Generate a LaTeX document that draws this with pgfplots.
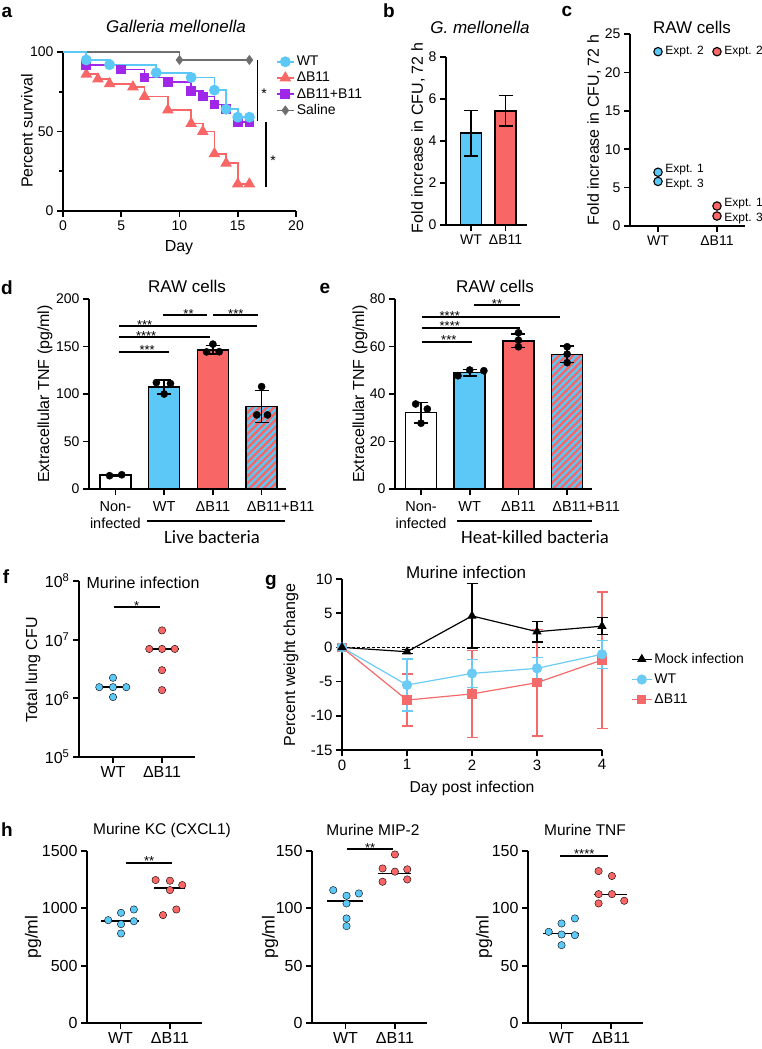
\documentclass[border=0pt]{standalone}
\usepackage{fontspec}
\setmainfont{Liberation Sans}
\newfontfamily\calib{Carlito}
\usepackage{pgfplots}
\pgfplotsset{compat=1.18}
\usetikzlibrary{patterns.meta}
\newcommand{\fs}[1]{\fontsize{#1pt}{1.2\dimexpr#1pt\relax}\selectfont}
\definecolor{wtblue}{HTML}{5CC8F7}
\definecolor{dred}{HTML}{F86666}
\definecolor{cpurple}{HTML}{A127E8}
\definecolor{cgray}{HTML}{6E6E6E}
\definecolor{gblue}{HTML}{6CCBF5}
\definecolor{gred}{HTML}{F46A6A}
\tikzset{sstar/.style={font=\fs{13}, anchor=base, inner sep=0pt, yshift=-3.2pt},
  elab/.style={anchor=west, font=\fs{12}, inner sep=0pt, xshift=7.2pt}}
\pgfplotsset{
  prism/.style={scale only axis, anchor=south west, clip=false,
    axis x line*=bottom, axis y line*=left,
    axis line style={line width=1.7pt,-},
    tick style={line width=1.7pt,black},
    major tick length=6pt, minor tick length=4pt, tick align=outside,
    ticklabel style={font=\fs{14}},
    /pgf/number format/assume math mode=true,
    /pgf/number format/1000 sep={},
    enlargelimits=false},
  barA/.style={ybar, bar width=31pt, bar shift=0pt, draw=black, line width=1.6pt,
    /pgfplots/error bars/y dir=both, /pgfplots/error bars/y explicit,
    /pgfplots/error bars/error bar style={line width=1.6pt,black},
    /pgfplots/error bars/error mark options={rotate=90,mark size=7pt,line width=1.6pt,black}},
  dots/.style={only marks, mark=*, mark size=3.6pt, black},
  sdot/.style={only marks, mark=*, mark size=3.7pt, draw=none},
}
\begin{document}
\begin{tikzpicture}
\useasboundingbox (0pt,0pt) rectangle (762pt,-1049pt);

% ---------------- panel a
\node[font=\bfseries\fs{19}] at (7pt,-12pt) {a};
\node[font=\itshape\fs{17}] at (176pt,-26pt) {Galleria mellonella};
\node[rotate=90,font=\fs{16}] at (27pt,-131pt) {Percent survival};
\node[font=\fs{16}] at (179pt,-248pt) {Day};
\begin{axis}[prism, at={(63pt,-211pt)}, width=233pt, height=159pt,
  xmin=0, xmax=20, ymin=0, ymax=100, xtick={0,5,10,15,20}, ytick={0,50,100}, minor ytick={25,75},
  legend style={draw=none, fill=none, at={(axis description cs:0.9,1.0)}, anchor=north west, font=\fs{14}, row sep=1pt,
    nodes={inner sep=2pt}},
  legend cell align=left]
\addlegendimage{wtblue, line width=1.8pt, mark=*, mark size=4.5pt}\addlegendentry{WT}
\addlegendimage{dred, line width=1.8pt, mark=triangle*, mark size=5pt}\addlegendentry{ΔB11}
\addlegendimage{cpurple, line width=1.8pt, mark=square*, mark size=4pt}\addlegendentry{ΔB11+B11}
\addlegendimage{cgray, line width=1.8pt, mark=diamond*, mark size=3.6pt}\addlegendentry{Saline}
\addplot[forget plot, const plot, cgray, line width=1.8pt, mark=diamond*, mark size=3.6pt, mark indices={2,3}]
  coordinates {(0,100)(10,95)(16,95)};
\addplot[forget plot, const plot, dred, line width=1.8pt, mark=triangle*, mark size=5pt, mark indices={2,3,4,5,6,7,8,9,10,11,12,13}]
  coordinates {(0,100)(2,86)(3,83)(4,80)(6,78)(7,72)(9,63.5)(11,55)(12,50)(13,36)(14,30)(15,17)(16,17)};
\addplot[forget plot, const plot, cpurple, line width=1.8pt, mark=square*, mark size=4pt, mark indices={2,3,4,5,6,7,8,9,10,11}]
  coordinates {(0,100)(2,92)(5,89)(7,84)(9,81)(11,75.5)(12,72)(13,67)(14,64)(15,56)(16,56)};
\addplot[forget plot, const plot, wtblue, line width=1.8pt, mark=*, mark size=4.5pt, mark indices={2,3,4,5,6,7,8,9}]
  coordinates {(0,100)(2,95)(4,92)(8,87)(11,84)(13,76)(14,64)(15,59)(16,59)};
\draw[line width=1.7pt] (axis cs:16.7,95) -- (axis cs:16.7,56.6);
\draw[line width=1.7pt] (axis cs:17.4,56) -- (axis cs:17.4,15);
\end{axis}
\node[font=\fs{14}, anchor=base, inner sep=0pt] at (264pt,-98pt) {*};
\node[font=\fs{14}, anchor=base, inner sep=0pt] at (273pt,-165pt) {*};

% ---------------- panel b
\node[font=\bfseries\fs{19}] at (389pt,-11pt) {b};
\node[font=\itshape\fs{17}] at (480pt,-27pt) {G. mellonella};
\node[rotate=90,font=\fs{16}] at (418pt,-138pt) {Fold increase in CFU, 72 h};
\begin{axis}[prism, at={(446pt,-225pt)}, width=81pt, height=168pt,
  xmin=-0.725, xmax=1.623, ymin=0, ymax=8, ytick={0,2,4,6,8}, xtick={0,1}, xticklabels={WT,ΔB11}]
\addplot[barA, bar width=21pt, fill=wtblue] coordinates {(0,4.37) +- (0,1.09)};
\addplot[barA, bar width=21pt, fill=dred] coordinates {(1,5.44) +- (0,0.72)};
\end{axis}

% ---------------- panel c
\node[font=\bfseries\fs{19}] at (567pt,-11pt) {c};
\node[font=\fs{17}] at (692pt,-27pt) {RAW cells};
\node[rotate=90,font=\fs{16}] at (594pt,-130pt) {Fold increase in CFU, 72 h};
\begin{axis}[prism, at={(630pt,-226pt)}, width=115pt, height=192pt,
  xmin=-0.475, xmax=1.475, ymin=0, ymax=25, ytick={0,5,...,25}, xtick={0,1}, xticklabels={WT,ΔB11}]
\addplot[only marks, mark=*, mark size=4.2pt, mark options={fill=wtblue, draw=black, line width=1.1pt}]
  coordinates {(0,22.7)(0,7.0)(0,5.8)};
\addplot[only marks, mark=*, mark size=4.2pt, mark options={fill=dred, draw=black, line width=1.1pt}]
  coordinates {(1,22.7)(1,2.6)(1,1.3)};
\node[elab] at (axis cs:0,22.7) {Expt. 2};
\node[elab, yshift=2.6pt] at (axis cs:0,7.0) {Expt. 1};
\node[elab, yshift=-2.6pt] at (axis cs:0,5.8) {Expt. 3};
\node[elab] at (axis cs:1,22.7) {Expt. 2};
\node[elab, yshift=2.2pt] at (axis cs:1,2.6) {Expt. 1};
\node[elab, yshift=-2.2pt] at (axis cs:1,1.3) {Expt. 3};
\end{axis}

% ---------------- panel d
\node[font=\bfseries\fs{19}] at (7pt,-288pt) {d};
\node[font=\fs{17}] at (187pt,-286pt) {RAW cells};
\node[rotate=90,font=\fs{16}] at (45pt,-394pt) {Extracellular TNF (pg/ml)};
\draw[line width=1.6pt] (147pt,-521pt) -- (285pt,-521pt);
\node[font=\calib\fs{18.7}] at (212pt,-537pt) {Live bacteria};
\begin{axis}[prism, at={(89pt,-489pt)}, width=197pt, height=190pt,
  xmin=-0.542, xmax=3.5, ymin=0, ymax=200, ytick={0,50,...,200}, xtick={0,1,2,3},
  xticklabels={{Non-\\infected},WT,ΔB11,{\makebox[0pt]{\hspace*{38pt}ΔB11+B11}}},
  xticklabel style={align=center, font=\fs{14.5}, yshift=-3pt}]
\addplot[barA, fill=white] coordinates {(0,14.5) +- (0,0.6)};
\addplot[barA, fill=wtblue] coordinates {(1,107.1) +- (0,7.4)};
\addplot[barA, fill=dred] coordinates {(2,146.6) +- (0,4.4)};
\addplot[barA, fill=wtblue, postaction={pattern={Lines[angle=45,distance=5pt,line width=2.4pt]}, pattern color=dred}]
  coordinates {(3,86.8) +- (0,17)};
\addplot[dots] coordinates {(-0.12,14)(0.13,15)(0.84,112)(1.13,111)(1,100)(2,152.5)(1.87,144.3)(2.13,144.5)(3,107.8)(2.9,78)(3.12,78)};
\draw[line width=1.6pt] (axis cs:0.08,144.5) -- (axis cs:1.09,144.5);
\node[sstar] at (axis cs:0.65,144.5) {***};
\draw[line width=1.6pt] (axis cs:0.08,159.7) -- (axis cs:1.94,159.7);
\node[sstar] at (axis cs:0.63,159.7) {****};
\draw[line width=1.6pt] (axis cs:0.08,171.5) -- (axis cs:2.9,171.5);
\node[sstar] at (axis cs:0.6,171.5) {***};
\draw[line width=1.6pt] (axis cs:0.97,183) -- (axis cs:1.88,183);
\node[sstar] at (axis cs:1.5,183) {**};
\draw[line width=1.6pt] (axis cs:2.0,183) -- (axis cs:2.92,183);
\node[sstar] at (axis cs:2.47,183) {***};
\end{axis}

% ---------------- panel e
\node[font=\bfseries\fs{19}] at (325pt,-288pt) {e};
\node[font=\fs{17}] at (495pt,-286pt) {RAW cells};
\node[rotate=90,font=\fs{16}] at (360pt,-394pt) {Extracellular TNF (pg/ml)};
\draw[line width=1.6pt] (457pt,-521pt) -- (592pt,-521pt);
\node[font=\calib\fs{18.7}] at (535pt,-537pt) {Heat-killed bacteria};
\begin{axis}[prism, at={(395pt,-489pt)}, width=197pt, height=190pt,
  xmin=-0.534, xmax=3.51, ymin=0, ymax=80, ytick={0,20,...,80}, xtick={0,1,2,3},
  xticklabels={{Non-\\infected},WT,ΔB11,{\makebox[0pt]{\hspace*{38pt}ΔB11+B11}}},
  xticklabel style={align=center, font=\fs{14.5}, yshift=-3pt}]
\addplot[barA, fill=white] coordinates {(0,32.2) +- (0,4.3)};
\addplot[barA, fill=wtblue] coordinates {(1,49.0) +- (0,1.35)};
\addplot[barA, fill=dred] coordinates {(2,62.4) +- (0,2.9)};
\addplot[barA, fill=wtblue, postaction={pattern={Lines[angle=45,distance=5pt,line width=2.4pt]}, pattern color=dred}]
  coordinates {(3,56.7) +- (0,3.5)};
\addplot[dots] coordinates {(-0.11,35.8)(0.13,33.7)(0,27.7)(0.76,47.7)(1,50.1)(1.29,49.8)(2,65.8)(2,62.7)(2,59.9)(3,59.9)(3,56.8)(3,53.2)};
\draw[line width=1.6pt] (axis cs:0.03,62) -- (axis cs:1.04,62);
\node[sstar] at (axis cs:0.57,62) {***};
\draw[line width=1.6pt] (axis cs:0.03,67.9) -- (axis cs:2.03,67.9);
\node[sstar] at (axis cs:0.59,67.9) {****};
\draw[line width=1.6pt] (axis cs:0.03,72.5) -- (axis cs:2.85,72.5);
\node[sstar] at (axis cs:0.59,72.5) {****};
\draw[line width=1.6pt] (axis cs:1.09,77.4) -- (axis cs:2.03,77.4);
\node[sstar] at (axis cs:1.56,77.4) {**};
\end{axis}

% ---------------- panel f
\node[font=\bfseries\fs{19}] at (6pt,-577pt) {f};
\node[font=\fs{16}, anchor=west] at (83pt,-583pt) {Murine infection};
\node[rotate=90,font=\fs{16}] at (33pt,-670pt) {Total lung CFU};
\begin{axis}[prism, ymode=log, at={(79pt,-757pt)}, width=116pt, height=176pt,
  xmin=-0.694, xmax=1.673, ymin=1e5, ymax=1e8, ytick={1e5,1e6,1e7,1e8}, yminorticks=false,
  yticklabels={10\textsuperscript{5},10\textsuperscript{6},10\textsuperscript{7},10\textsuperscript{8}},
  xtick={0,1}, xticklabels={WT,ΔB11}, ticklabel style={font=\fs{16}}]
\addplot[sdot, fill=wtblue] coordinates {(-0.28,1.55e6)(0,1.55e6)(0.27,1.55e6)(0,2.24e6)(0,1.05e6)};
\addplot[sdot, fill=dred] coordinates {(1,1.44e7)(0.74,6.95e6)(1,6.95e6)(1.26,6.95e6)(1,3.02e6)(1,1.38e6)};
\addplot[black, line width=1.7pt] coordinates {(-0.33,1.55e6)(0.32,1.55e6)};
\addplot[black, line width=1.7pt] coordinates {(0.7,6.95e6)(1.34,6.95e6)};
\draw[line width=1.6pt] (axis cs:0.01,3.58e7) -- (axis cs:0.95,3.58e7);
\node[sstar] at (axis cs:0.48,3.58e7) {*};
\end{axis}

% ---------------- panel g
\node[font=\bfseries\fs{19}] at (271pt,-582pt) {g};
\node[font=\fs{17}] at (466pt,-572pt) {Murine infection};
\node[rotate=90,font=\fs{16}] at (291pt,-665pt) {Percent weight change};
\node[font=\fs{15.7}] at (472pt,-788pt) {Day post infection};
\begin{axis}[prism, at={(342pt,-750pt)}, width=260pt, height=171pt,
  xmin=0, xmax=4, ymin=-15, ymax=10, ytick={-15,-10,...,10}, xtick={0,1,2,3,4},
  ticklabel style={font=\fs{15}},
  legend style={draw=none, fill=none, at={(axis description cs:1.1,0.59)}, anchor=north west, font=\fs{14}, row sep=5pt},
  legend cell align=left,
  legend image code/.code={\draw[mark repeat=2,mark phase=2,#1] plot coordinates {(0pt,0pt)(10pt,0pt)(20pt,0pt)};}]
\addlegendimage{black, line width=1.2pt, mark=triangle*, mark size=4.2pt}\addlegendentry{Mock infection}
\addlegendimage{gblue, line width=1.2pt, mark=*, mark size=4.5pt}\addlegendentry{WT}
\addlegendimage{gred, line width=1.2pt, mark=square*, mark size=4pt}\addlegendentry{ΔB11}
\draw[line width=1.6pt, densely dashed] (axis cs:0,0) -- (axis cs:4,0);
\addplot[forget plot, gred, line width=1.2pt, mark=square*, mark size=4pt,
  error bars/.cd, y dir=both, y explicit, error bar style={line width=1.2pt}, error mark options={rotate=90,mark size=5.5pt,line width=1.2pt}]
  coordinates {(0,0) +- (0,0) (1,-7.7) +- (0,3.8) (2,-6.8) +- (0,6.4) (3,-5.15) +- (0,7.8) (4,-1.85) +- (0,9.95)};
\addplot[forget plot, gblue, line width=1.2pt, mark=*, mark size=4.5pt,
  error bars/.cd, y dir=both, y explicit, error bar style={line width=1.2pt}, error mark options={rotate=90,mark size=5.5pt,line width=1.2pt}]
  coordinates {(0,0) +- (0,0) (1,-5.5) +- (0,3.8) (2,-3.8) +- (0,2.05) (3,-3.06) +- (0,1.6) (4,-1.0) +- (0,2.06)};
\addplot[forget plot, black, line width=1.2pt, mark=triangle*, mark size=4.2pt,
  error bars/.cd, y dir=both, y explicit, error bar style={line width=1.2pt}, error mark options={rotate=90,mark size=5.5pt,line width=1.2pt}]
  coordinates {(0,0) +- (0,0) (1,-0.63) +- (0,0.3) (2,4.6) +- (0,4.7) (3,2.3) +- (0,1.5) (4,3.1) +- (0,1.25)};
\end{axis}

% ---------------- panel h
\node[font=\bfseries\fs{19}] at (7pt,-830pt) {h};
\node[font=\fs{15.5}] at (162pt,-830pt) {Murine KC (CXCL1)};
\node[font=\fs{15.5}] at (373pt,-830pt) {Murine MIP-2};
\node[font=\fs{15.5}] at (585pt,-830pt) {Murine TNF};
\node[rotate=90,font=\fs{17.5}] at (33pt,-937pt) {pg/ml};
\node[rotate=90,font=\fs{17.5}] at (270pt,-937pt) {pg/ml};
\node[rotate=90,font=\fs{17.5}] at (484pt,-937pt) {pg/ml};
\pgfplotsset{hax/.style={prism, width=115pt, height=172pt, xmin=-0.68, xmax=1.65, ymin=0,
  xtick={0,1}, xticklabels={WT,ΔB11}, ticklabel style={font=\fs{16}}}}
\begin{axis}[hax, at={(87pt,-1023pt)}, ymax=1500, ytick={0,500,1000,1500}]
\addplot[sdot, fill=wtblue] coordinates {(-0.25,897)(0.01,961)(0.27,990)(0.27,888)(0.01,862)(0.01,781)};
\addplot[sdot, fill=dred] coordinates {(0.71,1247)(1.0,1241)(1.25,1203)(1.0,1159)(0.86,941)(1.13,990)};
\addplot[black, line width=1.7pt] coordinates {(-0.39,890)(0.38,890)};
\addplot[black, line width=1.7pt] coordinates {(0.67,1180)(1.31,1180)};
\draw[line width=1.6pt] (axis cs:0.11,1398) -- (axis cs:1.05,1398);
\node[sstar] at (axis cs:0.58,1398) {**};
\end{axis}
\begin{axis}[hax, at={(312pt,-1023pt)}, ymax=150, ytick={0,50,100,150}]
\addplot[sdot, fill=wtblue] coordinates {(-0.25,115.9)(0.02,111)(0.27,113)(0.02,104.3)(0.02,91.2)(0.02,84.5)};
\addplot[sdot, fill=dred] coordinates {(1.0,147)(0.75,134.8)(1.0,132)(1.25,134)(0.75,123.2)(1.25,125.2)};
\addplot[black, line width=1.7pt] coordinates {(-0.37,106.6)(0.36,106.6)};
\addplot[black, line width=1.7pt] coordinates {(0.65,130.5)(1.33,130.5)};
\draw[line width=1.6pt] (axis cs:0.03,151.5) -- (axis cs:0.96,151.5);
\node[sstar] at (axis cs:0.5,151.5) {**};
\end{axis}
\begin{axis}[hax, at={(528pt,-1023pt)}, ymax=150, ytick={0,50,100,150}]
\addplot[sdot, fill=wtblue] coordinates {(-0.26,79.5)(0,86.8)(0.27,91.2)(0,77.2)(0.27,76.6)(0,67.9)};
\addplot[sdot, fill=dred] coordinates {(0.75,132.5)(1.02,128.2)(0.75,112.4)(1.02,112.4)(0.75,104.3)(1.27,106.6)};
\addplot[black, line width=1.7pt] coordinates {(-0.37,78.1)(0.36,78.1)};
\addplot[black, line width=1.7pt] coordinates {(0.65,112.2)(1.33,112.2)};
\draw[line width=1.6pt] (axis cs:-0.03,145.9) -- (axis cs:0.94,145.9);
\node[sstar] at (axis cs:0.46,145.9) {****};
\end{axis}
\end{tikzpicture}
\end{document}
